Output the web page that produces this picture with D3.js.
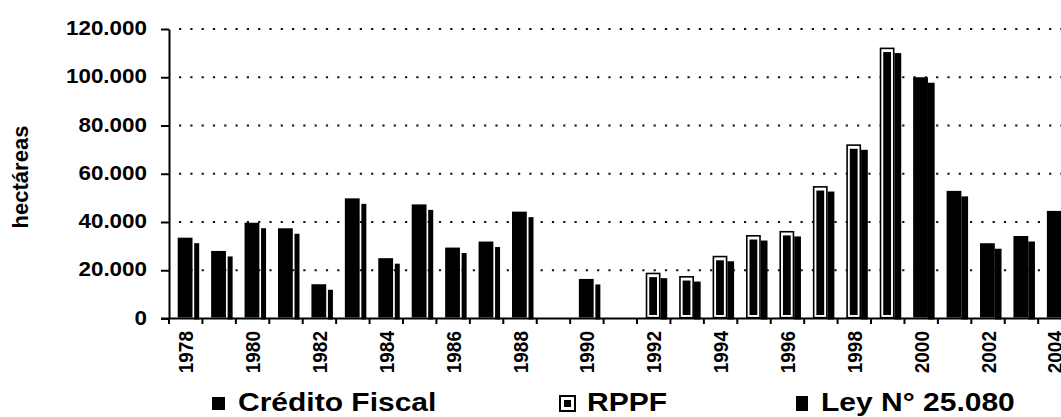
<!DOCTYPE html>
<html>
<head>
<meta charset="utf-8">
<script src="https://cdn.jsdelivr.net/npm/d3@7/dist/d3.min.js"></script>
<style>
  body { margin: 0; background: #fff; }
  svg { display: block; font-family: "Liberation Sans", Arial, sans-serif; font-weight: bold; }
</style>
</head>
<body>
<div id="chart"></div>
<script>
const years = [1978, 1979, 1980, 1981, 1982, 1983, 1984, 1985, 1986, 1987, 1988, 1989, 1990,
  1991, 1992, 1993, 1994, 1995, 1996, 1997, 1998, 1999, 2000, 2001, 2002, 2003, 2004];

const creditoYears = [1978, 1979, 1980, 1981, 1982, 1983, 1984, 1985, 1986, 1987, 1988, 1990];
const creditoValues = [33500, 28000, 39700, 37400, 14200, 49800, 25000, 47300, 29400, 31900, 44300, 16400];

const rppfYears = [1992, 1993, 1994, 1995, 1996, 1997, 1998, 1999];
const rppfValues = [19000, 17600, 26000, 34600, 36300, 54900, 72200, 112300];

const leyYears = [2000, 2001, 2002, 2003, 2004];
const leyValues = [100000, 52900, 31200, 34200, 44600];

const yTicks = [0, 20000, 40000, 60000, 80000, 100000, 120000];
const labelYears = years.filter((d) => (d - 1978) % 2 === 0);

const legendItems = ['Crédito Fiscal', 'RPPF', 'Ley N° 25.080'];

const width = 1061;
const height = 417;
const left = 169;
const bandW = 33.43;

const svg = d3.select('#chart').append('svg')
  .attr('width', width).attr('height', height);

const x = d3.scaleBand()
  .domain(years)
  .range([left, left + years.length * bandW]);

const y = d3.scaleLinear()
  .domain([0, 120000])
  .range([318.5, 29]);

const fmt = d3.formatLocale({ decimal: ',', thousands: '.', grouping: [3], currency: ['', ''] }).format(',d');

// dotted gridlines
svg.append('g')
  .selectAll('line')
  .data(yTicks.filter((d) => d > 0))
  .join('line')
  .attr('x1', left + 10)
  .attr('x2', width)
  .attr('y1', (d) => y(d))
  .attr('y2', (d) => y(d))
  .attr('stroke', '#111')
  .attr('stroke-width', 2.2)
  .attr('stroke-dasharray', '2.2,9.1');

// y axis
const yAxis = svg.append('g')
  .attr('transform', `translate(${left},0)`)
  .call(d3.axisLeft(y).tickValues(yTicks).tickSize(8).tickSizeOuter(0).tickFormat(''));
yAxis.select('.domain').attr('stroke', '#000').attr('stroke-width', 2);
yAxis.selectAll('.tick line').attr('stroke', '#000').attr('stroke-width', 2);

svg.append('g')
  .selectAll('text')
  .data(yTicks)
  .join('text')
  .attr('text-anchor', 'end')
  .attr('font-size', 19.5)
  .attr('transform', (d) => `translate(147,${y(d) + 6}) scale(1.15,1)`)
  .text((d) => fmt(d));

svg.append('text')
  .attr('text-anchor', 'middle')
  .attr('font-size', 22)
  .attr('transform', 'translate(28,177) rotate(-90)')
  .text('hectáreas');

// x axis line and boundary ticks
svg.append('line')
  .attr('x1', left - 8).attr('x2', width)
  .attr('y1', y(0)).attr('y2', y(0))
  .attr('stroke', '#000').attr('stroke-width', 2);

svg.append('g')
  .selectAll('line')
  .data(years)
  .join('line')
  .attr('x1', (d) => x(d))
  .attr('x2', (d) => x(d))
  .attr('y1', y(0))
  .attr('y2', y(0) + 5.5)
  .attr('stroke', '#000')
  .attr('stroke-width', 2);

svg.append('g')
  .selectAll('text')
  .data(labelYears)
  .join('text')
  .attr('text-anchor', 'end')
  .attr('font-size', 19)
  .attr('transform', (d) => `translate(${x(d) + bandW / 2 + 7.5},331) scale(1.1,1) rotate(-90)`)
  .text((d) => d);

// bars: front face + side face offset lower
const frontX = 8.7;
const frontW = 14.8;
const sideEnd = 30.2;
const drop = 5.5;

function drawSolid(yearsArr, valuesArr, gap) {
  const data = yearsArr.map((yr, i) => ({ year: yr, value: valuesArr[i] }));
  const g = svg.append('g');
  g.selectAll('rect.side')
    .data(data)
    .join('rect')
    .attr('class', 'side')
    .attr('x', (d) => x(d.year) + frontX + frontW + gap)
    .attr('width', sideEnd - frontX - frontW - gap)
    .attr('y', (d) => y(d.value) + drop)
    .attr('height', (d) => y(0) - y(d.value) - drop + 1)
    .attr('fill', '#000');
  g.selectAll('rect.front')
    .data(data)
    .join('rect')
    .attr('class', 'front')
    .attr('x', (d) => x(d.year) + frontX)
    .attr('width', frontW)
    .attr('y', (d) => y(d.value))
    .attr('height', (d) => y(0) - y(d.value) - 1)
    .attr('fill', '#000');
}

drawSolid(creditoYears, creditoValues, 1.7);
drawSolid(leyYears, leyValues, 0);

// RPPF: outlined frame, white ring, black core
const rppf = rppfYears.map((yr, i) => ({ year: yr, value: rppfValues[i] }));
const rg = svg.append('g');
rg.selectAll('rect.side')
  .data(rppf)
  .join('rect')
  .attr('class', 'side')
  .attr('x', (d) => x(d.year) + frontX + frontW)
  .attr('width', sideEnd - frontX - frontW)
  .attr('y', (d) => y(d.value) + drop)
  .attr('height', (d) => y(0) - y(d.value) - drop + 1)
  .attr('fill', '#000');
rg.selectAll('rect.frame')
  .data(rppf)
  .join('rect')
  .attr('class', 'frame')
  .attr('x', (d) => x(d.year) + frontX + 0.8)
  .attr('width', frontW - 1.6)
  .attr('y', (d) => y(d.value) + 0.8)
  .attr('height', (d) => y(0) - y(d.value) - 1.6)
  .attr('fill', '#fff')
  .attr('stroke', '#000')
  .attr('stroke-width', 1.6);
rg.selectAll('rect.core')
  .data(rppf)
  .join('rect')
  .attr('class', 'core')
  .attr('x', (d) => x(d.year) + frontX + 3.5)
  .attr('width', frontW - 7)
  .attr('y', (d) => y(d.value) + 4.5)
  .attr('height', (d) => y(0) - y(d.value) - 8)
  .attr('fill', '#000');

// legend
const legend = svg.append('g');
legend.append('rect').attr('x', 212).attr('y', 397).attr('width', 13).attr('height', 13).attr('fill', '#000');
legend.append('rect').attr('x', 560).attr('y', 396).attr('width', 15).attr('height', 15)
  .attr('fill', '#fff').attr('stroke', '#000').attr('stroke-width', 2);
legend.append('rect').attr('x', 564).attr('y', 400).attr('width', 7).attr('height', 7).attr('fill', '#000');
legend.append('rect').attr('x', 796).attr('y', 396).attr('width', 12).attr('height', 15).attr('fill', '#000');

const legendX = [238, 587, 821];
legend.selectAll('text')
  .data(legendItems)
  .join('text')
  .attr('font-size', 25)
  .attr('transform', (d, i) => `translate(${legendX[i]},411) scale(1.2,1)`)
  .text((d) => d);
</script>
</body>
</html>
